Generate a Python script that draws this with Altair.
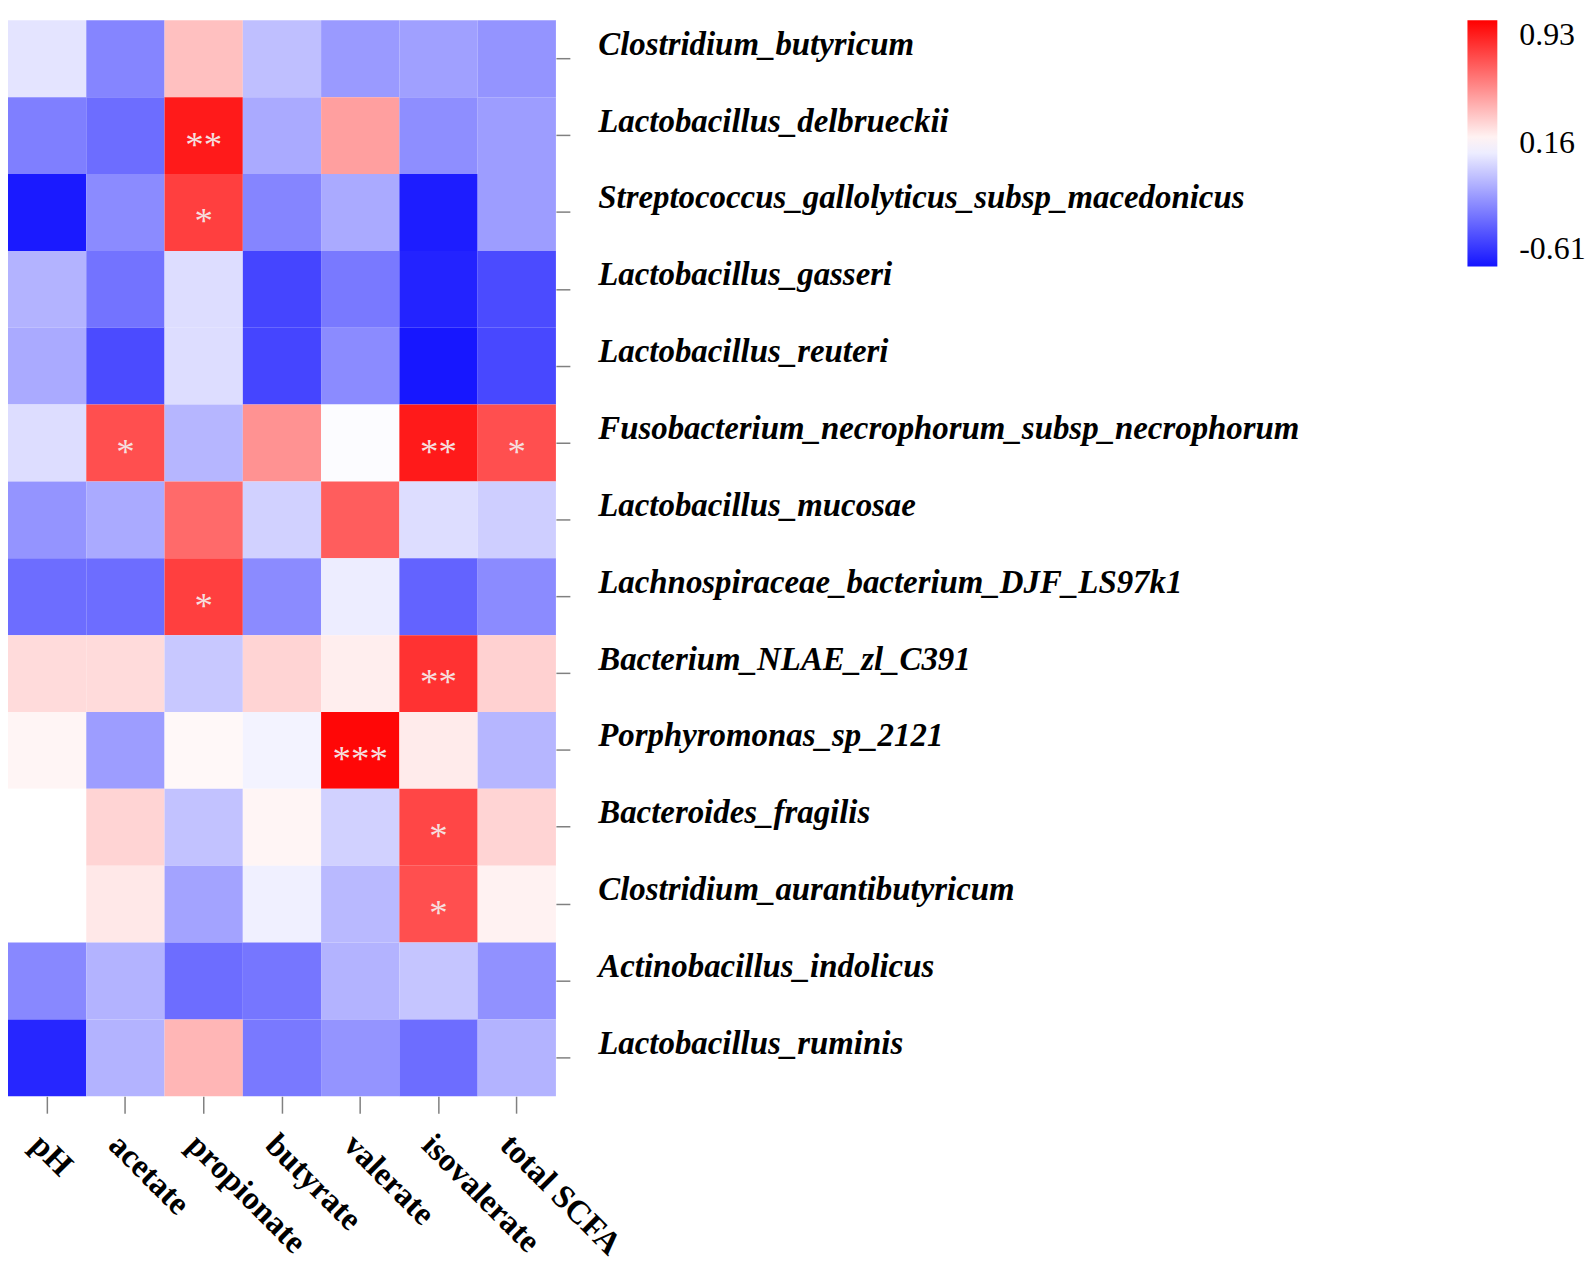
import altair as alt
import pandas as pd

taxa = [
    "Clostridium_butyricum",
    "Lactobacillus_delbrueckii",
    "Streptococcus_gallolyticus_subsp_macedonicus",
    "Lactobacillus_gasseri",
    "Lactobacillus_reuteri",
    "Fusobacterium_necrophorum_subsp_necrophorum",
    "Lactobacillus_mucosae",
    "Lachnospiraceae_bacterium_DJF_LS97k1",
    "Bacterium_NLAE_zl_C391",
    "Porphyromonas_sp_2121",
    "Bacteroides_fragilis",
    "Clostridium_aurantibutyricum",
    "Actinobacillus_indolicus",
    "Lactobacillus_ruminis",
]
variables = ["pH", "acetate", "propionate", "butyrate", "valerate", "isovalerate", "total SCFA"]

# correlation values, one row per taxon (columns in order of `variables`)
r_clostridium_butyricum = [0.07, -0.24, 0.35, -0.05, -0.17, -0.15, -0.19]
r_lacto_delbrueckii = [-0.26, -0.32, 0.85, -0.12, 0.45, -0.21, -0.16]
r_strepto_gallolyticus = [-0.59, -0.22, 0.74, -0.24, -0.12, -0.58, -0.16]
r_lacto_gasseri = [-0.09, -0.30, 0.05, -0.45, -0.28, -0.56, -0.43]
r_lacto_reuteri = [-0.12, -0.43, 0.05, -0.45, -0.22, -0.60, -0.44]
r_fuso_necrophorum = [0.05, 0.69, -0.08, 0.49, 0.15, 0.85, 0.69]
r_lacto_mucosae = [-0.19, -0.12, 0.61, 0.01, 0.65, 0.05, 0.00]
r_lachno_djf = [-0.32, -0.32, 0.74, -0.22, 0.10, -0.35, -0.22]
r_bacterium_nlae = [0.27, 0.27, -0.02, 0.29, 0.21, 0.78, 0.30]
r_porphyromonas = [0.19, -0.16, 0.18, 0.12, 0.91, 0.22, -0.08]
r_bacteroides_fragilis = [0.16, 0.29, -0.04, 0.19, 0.01, 0.72, 0.29]
r_clostridium_aurantib = [0.16, 0.23, -0.14, 0.11, -0.07, 0.69, 0.20]
r_actinobacillus = [-0.23, -0.09, -0.32, -0.29, -0.09, -0.03, -0.20]
r_lacto_ruminis = [-0.55, -0.09, 0.38, -0.28, -0.19, -0.32, -0.09]

# significance marks
s_clostridium_butyricum = ["", "", "", "", "", "", ""]
s_lacto_delbrueckii = ["", "", "**", "", "", "", ""]
s_strepto_gallolyticus = ["", "", "*", "", "", "", ""]
s_lacto_gasseri = ["", "", "", "", "", "", ""]
s_lacto_reuteri = ["", "", "", "", "", "", ""]
s_fuso_necrophorum = ["", "*", "", "", "", "**", "*"]
s_lacto_mucosae = ["", "", "", "", "", "", ""]
s_lachno_djf = ["", "", "*", "", "", "", ""]
s_bacterium_nlae = ["", "", "", "", "", "**", ""]
s_porphyromonas = ["", "", "", "", "***", "", ""]
s_bacteroides_fragilis = ["", "", "", "", "", "*", ""]
s_clostridium_aurantib = ["", "", "", "", "", "*", ""]
s_actinobacillus = ["", "", "", "", "", "", ""]
s_lacto_ruminis = ["", "", "", "", "", "", ""]

r_rows = [r_clostridium_butyricum, r_lacto_delbrueckii, r_strepto_gallolyticus, r_lacto_gasseri,
          r_lacto_reuteri, r_fuso_necrophorum, r_lacto_mucosae, r_lachno_djf, r_bacterium_nlae,
          r_porphyromonas, r_bacteroides_fragilis, r_clostridium_aurantib, r_actinobacillus, r_lacto_ruminis]
s_rows = [s_clostridium_butyricum, s_lacto_delbrueckii, s_strepto_gallolyticus, s_lacto_gasseri,
          s_lacto_reuteri, s_fuso_necrophorum, s_lacto_mucosae, s_lachno_djf, s_bacterium_nlae,
          s_porphyromonas, s_bacteroides_fragilis, s_clostridium_aurantib, s_actinobacillus, s_lacto_ruminis]

records = []
for t, rv, sv in zip(taxa, r_rows, s_rows):
    for v, r, s in zip(variables, rv, sv):
        records.append({"taxon": t, "var": v, "r": r, "sig": s})
df = pd.DataFrame(records)

legend_values = [-0.61, 0.16, 0.93]

x_enc = alt.X(
    "var:N", sort=variables, title=None,
    scale=alt.Scale(paddingInner=0, paddingOuter=0),
    axis=alt.Axis(
        orient="bottom", labelAngle=45, labelAlign="left", labelBaseline="top",
        labelFont="Liberation Serif", labelFontWeight="bold", labelFontSize=33,
        labelColor="black", labelPadding=15, tickSize=17,
        tickColor="#808080", tickWidth=1.5, domain=False, grid=False,
    ),
)
y_enc = alt.Y(
    "taxon:N", sort=taxa, title=None,
    scale=alt.Scale(paddingInner=0, paddingOuter=0),
    axis=alt.Axis(
        orient="right", labelFont="Liberation Serif", labelFontStyle="italic",
        labelFontWeight="bold", labelFontSize=33, labelColor="black",
        labelAlign="left", labelBaseline="middle", labelOffset=-14, labelPadding=28,
        labelLimit=1200, tickSize=14, tickColor="#808080", tickWidth=1.5,
        domain=False, grid=False,
    ),
)

base = alt.Chart(df).encode(x=x_enc, y=y_enc)

rect = base.mark_rect().encode(
    color=alt.Color(
        "r:Q",
        scale=alt.Scale(domain=legend_values, range=["#1414ff", "#ffffff", "#ff0000"], interpolate="rgb"),
        legend=alt.Legend(
            title=None, orient="none", legendX=1465, legendY=0, direction="vertical",
            gradientLength=247, gradientThickness=30, gradientStrokeWidth=0,
            values=legend_values,
            labelExpr="datum.value < 0 ? '-' + format(-datum.value, '.2f') : format(datum.value, '.2f')",
            labelFont="Liberation Serif",
            labelFontSize=32, labelColor="black", labelOffset=22,
        ),
    )
)

text = base.mark_text(
    font="Liberation Serif", fontSize=37, color="#f6dede", baseline="middle", dy=10
).encode(text="sig:N")

chart = (
    alt.layer(rect, text)
    .properties(width=550, height=1080, padding={"left": 0, "top": 10, "right": 0, "bottom": 0})
    .configure_view(stroke=None)
)

chart.save("out.html", embed_options={"renderer": "svg", "actions": False})
